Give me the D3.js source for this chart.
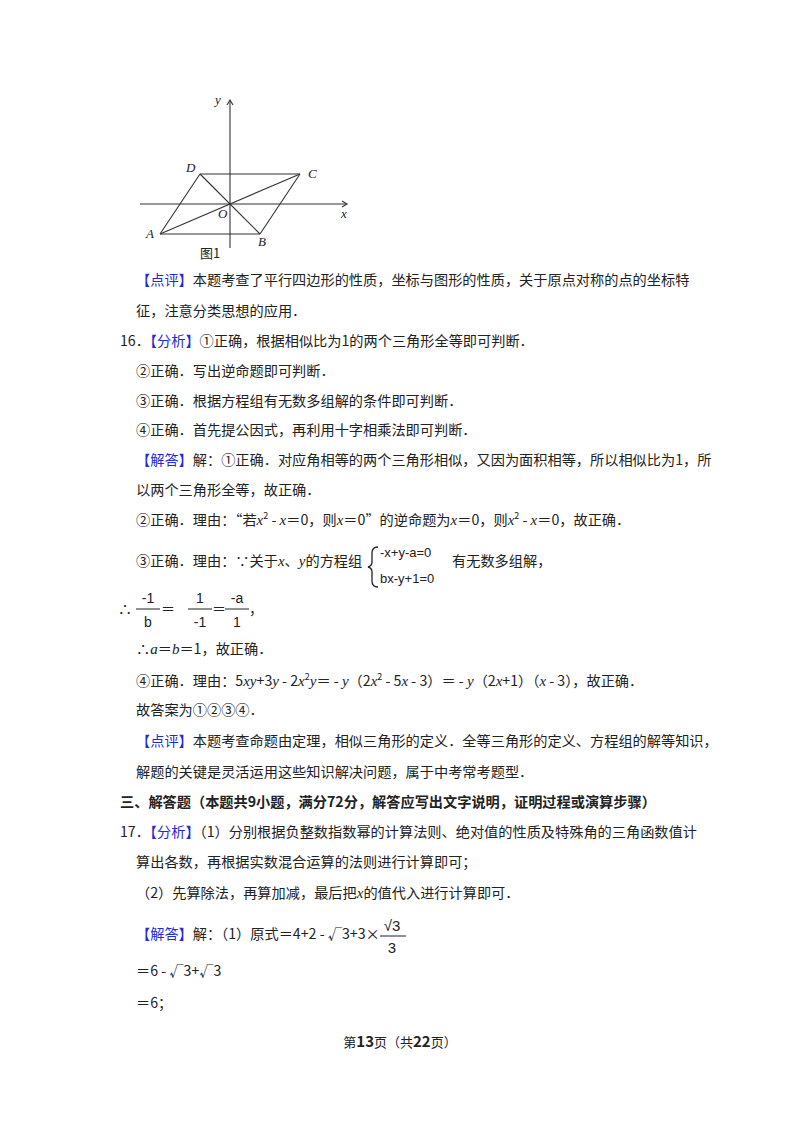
<!DOCTYPE html><html><head><meta charset="utf-8"><script src="https://d3js.org/d3.v7.min.js"></script>
<style>body{margin:0;background:#fff}text{font-family:"Noto Sans CJK SC","DejaVu Sans";fill:#222}</style></head><body>
<svg id="s" width="800" height="1132"></svg>
<script>
const points=[{n:"A",x:-70,y:-30},{n:"B",x:30,y:-30},{n:"C",x:70,y:30},{n:"D",x:-30,y:30},{n:"O",x:0,y:0}];
const segments=[["A","B"],["B","C"],["C","D"],["D","A"],["A","C"],["D","B"]];
const labelOff={A:[-14,4],B:[-2,12],C:[8,4],D:[-14,-2],O:[-12,14]};
const lines=[
[136,285,[["【点评】","b"],["本题考查了平行四边形的性质，坐标与图形的性质，关于原点对称的点的坐标特",""]]],
[136,316,[["征，注意分类思想的应用．",""]]],
[120,346,[["16．",""],["【分析】","b"],["①正确，根据相似比为1的两个三角形全等即可判断．",""]]],
[136,376,[["②正确．写出逆命题即可判断．",""]]],
[136,406,[["③正确．根据方程组有无数多组解的条件即可判断．",""]]],
[136,435,[["④正确．首先提公因式，再利用十字相乘法即可判断．",""]]],
[136,465,[["【解答】","b"],["解：①正确．对应角相等的两个三角形相似，又因为面积相等，所以相似比为1，所",""]]],
[136,495,[["以两个三角形全等，故正确．",""]]],
[136,525,[["②正确．理由：“若",""],["x","i"],["2","s"],[" - ",""],["x","i"],["＝0，则",""],["x","i"],["＝0”的逆命题为",""],["x","i"],["＝0，则",""],["x","i"],["2","s"],[" - ",""],["x","i"],["＝0，故正确．",""]]],
[136,566,[["③正确．理由：∵关于",""],["x","i"],["、",""],["y","i"],["的方程组",""]]],
[452,566,[["有无数多组解，",""]]],
[136,654,[["∴",""],["a","i"],["＝",""],["b","i"],["＝1，故正确．",""]]],
[136,686,[["④正确．理由：5",""],["xy","i"],["+3",""],["y","i"],[" - 2",""],["x","i"],["2","s"],["y","i"],["＝ - ",""],["y","i"],["（2",""],["x","i"],["2","s"],[" - 5",""],["x","i"],[" - 3）＝ - ",""],["y","i"],["（2",""],["x","i"],["+1）（",""],["x","i"],[" - 3），故正确．",""]]],
[136,715,[["故答案为①②③④．",""]]],
[136,746,[["【点评】","b"],["本题考查命题由定理，相似三角形的定义．全等三角形的定义、方程组的解等知识，",""]]],
[136,777,[["解题的关键是灵活运用这些知识解决问题，属于中考常考题型．",""]]],
[120,807,[["三、解答题（本题共9小题，满分72分，解答应写出文字说明，证明过程或演算步骤）","B"]]],
[120,837,[["17．",""],["【分析】","b"],["（1）分别根据负整数指数幂的计算法则、绝对值的性质及特殊角的三角函数值计",""]]],
[136,867,[["算出各数，再根据实数混合运算的法则进行计算即可；",""]]],
[136,898,[["（2）先算除法，再算加减，最后把",""],["x","i"],["的值代入进行计算即可．",""]]],
[136,939,[["【解答】","b"],["解：（1）原式＝4+2 - √3+3×",""]]],
[136,976,[["＝6 - √3+√3",""]]],
[136,1008,[["＝6；",""]]]
];
const svg=d3.select("#s");
const xs=d3.scaleLinear().domain([-90,117]).range([140,347]);
const ys=d3.scaleLinear().domain([-44,104]).range([248,100]);
const P=Object.fromEntries(points.map(p=>[p.n,p]));
const g=svg.append("g").attr("stroke","#333").attr("stroke-width",1.1).attr("fill","none");
g.append("line").attr("x1",xs(-90)).attr("x2",xs(117)).attr("y1",ys(0)).attr("y2",ys(0));
g.append("line").attr("x1",xs(0)).attr("x2",xs(0)).attr("y1",ys(-44)).attr("y2",ys(104));
g.append("path").attr("d",`M${xs(112)},${ys(3)}L${xs(117)},${ys(0)}L${xs(112)},${ys(-3)}`);
g.append("path").attr("d",`M${xs(-3)},${ys(99)}L${xs(0)},${ys(104)}L${xs(3)},${ys(99)}`);
segments.forEach(([a,b])=>g.append("line").attr("x1",xs(P[a].x)).attr("y1",ys(P[a].y)).attr("x2",xs(P[b].x)).attr("y2",ys(P[b].y)));
const serifIt=s=>s.style("font-family","Liberation Serif").attr("font-style","italic").attr("font-size",13);
points.forEach(p=>serifIt(svg.append("text").attr("x",xs(p.x)+labelOff[p.n][0]).attr("y",ys(p.y)+labelOff[p.n][1])).text(p.n));
serifIt(svg.append("text").attr("x",xs(117)-6).attr("y",ys(0)+14)).text("x");
serifIt(svg.append("text").attr("x",xs(0)-15).attr("y",ys(104)+4)).text("y");
svg.append("text").attr("x",200).attr("y",258).attr("font-size",13).text("图1");
lines.forEach(([x,y,parts])=>{
  const t=svg.append("text").attr("x",x).attr("y",y).attr("font-size",14.2);
  let pend=0;
  parts.forEach(([s,st])=>{
    const sp=t.append("tspan").text(s);
    if(st.includes("b")) sp.style("fill","#1f2bd6");
    if(st.includes("i")) sp.style("font-family","Liberation Serif").attr("font-style","italic").attr("font-size",15);
    if(st.includes("B")) sp.attr("font-weight","bold");
    if(st==="s"){sp.attr("font-size",9).attr("dy",-6);pend=6;}
    else if(pend){sp.attr("dy",pend);pend=0;}
  });
});
const sys=svg.append("g");
sys.append("path").attr("d","M378,547 Q372,547 372,553 L372,562 Q372,566 368,567 Q372,568 372,572 L372,581 Q372,587 378,587").attr("fill","none").attr("stroke","#222").attr("stroke-width",1.3);
sys.append("text").attr("x",380).attr("y",557).attr("font-size",13).style("font-family","Liberation Sans").text("-x+y-a=0");
sys.append("text").attr("x",380).attr("y",583).attr("font-size",13).style("font-family","Liberation Sans").text("bx-y+1=0");
const fr=[["-1","b",148],["1","-1",200],["-a","1",237]];
svg.append("text").attr("x",118).attr("y",614).attr("font-size",14).text("∴");
fr.forEach(([n,d,x])=>{
  svg.append("text").attr("x",x).attr("y",603).attr("text-anchor","middle").attr("font-size",14).style("font-family","Liberation Sans").text(n);
  svg.append("line").attr("x1",x-12).attr("x2",x+12).attr("y1",609).attr("y2",609).attr("stroke","#222");
  svg.append("text").attr("x",x).attr("y",627).attr("text-anchor","middle").attr("font-size",14).style("font-family","Liberation Sans").text(d);
});
svg.append("text").attr("x",161).attr("y",614).attr("font-size",14).text("＝");
svg.append("text").attr("x",212).attr("y",614).attr("font-size",14).text("＝");
svg.append("text").attr("x",249).attr("y",614).attr("font-size",14).text("，");
svg.append("text").attr("x",392).attr("y",931).attr("text-anchor","middle").attr("font-size",15).style("font-family","Liberation Sans").text("√3");
svg.append("line").attr("x1",380).attr("x2",406).attr("y1",936).attr("y2",936).attr("stroke","#222");
svg.append("text").attr("x",392).attr("y",953).attr("text-anchor","middle").attr("font-size",15).style("font-family","Liberation Sans").text("3");
const f=svg.append("text").attr("x",400).attr("y",1047).attr("text-anchor","middle").attr("font-size",13);
f.append("tspan").text("第");f.append("tspan").attr("font-weight","bold").attr("font-size",15).text("13");
f.append("tspan").text("页（共");f.append("tspan").attr("font-weight","bold").attr("font-size",15).text("22");f.append("tspan").text("页）");
</script></body></html>
